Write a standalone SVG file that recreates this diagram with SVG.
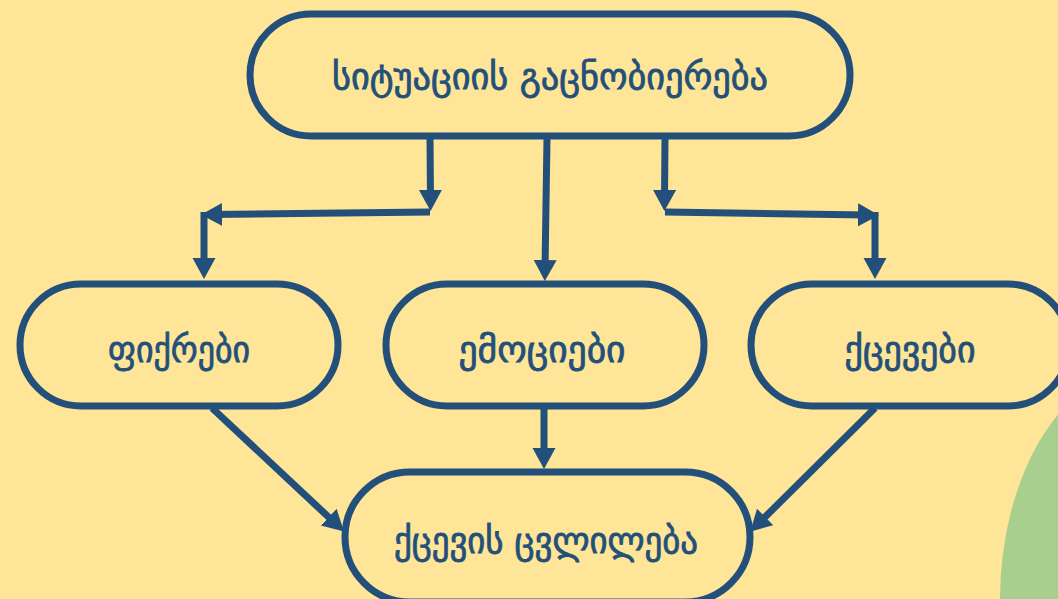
<svg xmlns="http://www.w3.org/2000/svg" width="1058" height="599" viewBox="0 0 1058 599">
<style>
.node{fill:#fee597;stroke:#23507a;stroke-width:7}
.lbl{font-family:"DejaVu Sans",sans-serif;font-size:36px;fill:#23507a;stroke:#23507a;stroke-width:0.8;text-anchor:middle}
.conn{stroke:#23507a;stroke-width:7;fill:none}
</style>
<defs>
<marker id="ah" markerUnits="userSpaceOnUse" markerWidth="24" markerHeight="24" refX="10" refY="11.5" orient="auto">
<path d="M0,0 L21,11.5 L0,23 z" fill="#23507a"/>
</marker>
</defs>
<rect width="1058" height="599" fill="#fee597"/>
<ellipse cx="1150" cy="600" rx="150" ry="235" fill="#a8cf8e"/>
<g id="connectors">
<line class="conn" x1="430" y1="138" x2="430.5" y2="200" marker-end="url(#ah)"/>
<line class="conn" x1="430" y1="212" x2="212" y2="214.5" marker-end="url(#ah)"/>
<line class="conn" x1="204" y1="212" x2="204" y2="268" marker-end="url(#ah)"/>
<line class="conn" x1="547" y1="138" x2="545" y2="270" marker-end="url(#ah)"/>
<line class="conn" x1="665" y1="138" x2="664.5" y2="200" marker-end="url(#ah)"/>
<line class="conn" x1="665" y1="212" x2="868" y2="215" marker-end="url(#ah)"/>
<line class="conn" x1="875" y1="212" x2="875" y2="268" marker-end="url(#ah)"/>
<line class="conn" x1="212" y1="408" x2="336" y2="524" marker-end="url(#ah)"/>
<line class="conn" x1="544" y1="408" x2="544" y2="458" marker-end="url(#ah)"/>
<line class="conn" x1="875" y1="408" x2="758" y2="524" marker-end="url(#ah)"/>
</g>
<g id="n-top">
<rect class="node" x="250" y="14" width="600" height="122" rx="61"/>
<text class="lbl" x="550" y="89" textLength="436" lengthAdjust="spacingAndGlyphs">სიტუაციის გაცნობიერება</text>
</g>
<g id="n-thoughts">
<rect class="node" x="20" y="284" width="318" height="122" rx="61"/>
<text class="lbl" x="179" y="362" textLength="142" lengthAdjust="spacingAndGlyphs">ფიქრები</text>
</g>
<g id="n-emotions">
<rect class="node" x="386" y="284" width="318" height="122" rx="61"/>
<text class="lbl" x="542" y="362" textLength="167" lengthAdjust="spacingAndGlyphs">ემოციები</text>
</g>
<g id="n-behaviors">
<rect class="node" x="751" y="284" width="318" height="122" rx="61"/>
<text class="lbl" x="910" y="362" textLength="131" lengthAdjust="spacingAndGlyphs">ქცევები</text>
</g>
<g id="n-change">
<rect class="node" x="345" y="472" width="405" height="130" rx="65"/>
<text class="lbl" x="546" y="553" textLength="304" lengthAdjust="spacingAndGlyphs">ქცევის ცვლილება</text>
</g>
</svg>
